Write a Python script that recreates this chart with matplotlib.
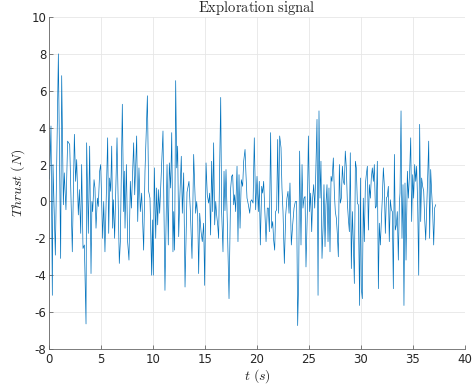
import numpy as np
import matplotlib
matplotlib.use("Agg")
import matplotlib.pyplot as plt

# === values (vertices of the trace) ===
t = [0.0, 0.06, 0.19, 0.32, 0.385, 0.61, 0.90, 1.12, 1.22, 1.38, 1.47, 1.63, 1.79, 1.99,
     2.24, 2.44, 2.56, 2.66, 2.82, 2.92, 3.05, 3.14, 3.27, 3.40, 3.56, 3.62, 3.78, 3.91,
     4.04, 4.13, 4.20, 4.33, 4.42, 4.52, 4.65, 4.74, 4.87,
     4.97, 5.16, 5.26, 5.38, 5.64, 5.74, 5.83, 5.93, 6.03, 6.12, 6.19, 6.31, 6.54, 6.76,
     6.86, 7.05, 7.18, 7.24, 7.31, 7.44, 7.56, 7.69, 7.82, 7.92, 8.14, 8.24, 8.43, 8.53,
     8.65, 8.78, 8.91, 9.10, 9.23, 9.46, 9.58, 9.71,
     9.87, 9.94, 10.03, 10.13, 10.26, 10.35, 10.45, 10.54, 10.64, 10.74, 10.96, 11.15,
     11.35, 11.47, 11.57, 11.70, 11.80, 11.92, 11.99, 12.08, 12.18, 12.28, 12.37, 12.47,
     12.56, 12.72, 12.82, 12.95, 13.08, 13.27, 13.46, 13.59, 13.75, 13.91, 14.10, 14.20,
     14.30, 14.39,
     14.49, 14.62, 14.74, 14.87, 14.97, 15.10, 15.22, 15.35, 15.45, 15.54, 15.64, 15.74,
     15.83, 15.93, 16.03, 16.12, 16.22, 16.31, 16.51, 16.60, 16.73, 16.83, 16.92, 17.02,
     17.15, 17.31, 17.47, 17.56, 17.66, 17.76, 17.85, 17.95, 18.08, 18.17, 18.27, 18.37,
     18.49, 18.62, 18.72, 18.85, 18.94, 19.04, 19.17,
     19.30, 19.39, 19.49, 19.62, 19.74, 19.87, 20.00, 20.13, 20.22, 20.32, 20.45, 20.54,
     20.64, 20.77, 20.87, 20.99, 21.09, 21.19, 21.31, 21.41, 21.51, 21.60, 21.70, 21.79,
     21.89, 21.99, 22.08, 22.18, 22.31, 22.40, 22.50, 22.63, 22.76, 22.88, 22.98, 23.08,
     23.17, 23.30, 23.43, 23.56, 23.69, 23.81, 23.91, 24.01,
     24.10, 24.23, 24.33, 24.42, 24.52, 24.62, 24.71, 24.84, 24.94, 25.06, 25.16, 25.26,
     25.35, 25.45, 25.55, 25.64, 25.77, 25.87, 25.96, 26.06, 26.15, 26.25, 26.35, 26.44,
     26.54, 26.63, 26.73, 26.83, 26.92, 27.02, 27.12, 27.21, 27.34, 27.44, 27.53, 27.63,
     27.72, 27.82, 27.92, 28.01, 28.11, 28.21, 28.30, 28.40, 28.49, 28.59, 28.69, 28.78,
     28.88,
     28.97, 29.07, 29.17, 29.26, 29.36, 29.46, 29.55, 29.65, 29.74, 29.87, 29.94, 30.03,
     30.13, 30.22, 30.32, 30.42, 30.51, 30.61, 30.71, 30.80, 30.90, 30.99, 31.09, 31.19,
     31.28, 31.38, 31.47, 31.57, 31.67, 31.76, 31.86, 31.96, 32.05, 32.15, 32.24, 32.34,
     32.44, 32.53, 32.63, 32.72, 32.82, 32.92, 33.01, 33.11, 33.21, 33.30, 33.40, 33.49,
     33.59, 33.69,
     33.75, 33.85, 33.94, 34.04, 34.13, 34.23, 34.33, 34.46, 34.55, 34.68, 34.78, 34.87,
     34.97, 35.06, 35.16, 35.26, 35.35, 35.45, 35.55, 35.64, 35.74, 35.83, 35.93, 36.03,
     36.12, 36.22, 36.31, 36.41, 36.51, 36.60, 36.70, 36.79, 36.89, 36.99, 37.08, 37.18]

thrust = [1.2, 1.27, 4.09, -5.09, 2.0, -2.91, 8.0, -3.09, 6.82, -0.18, 1.55, -0.45, 3.27, 3.09,
          -2.73, 3.64, 1.09, 2.27, -0.73, 0.64, -1.73, 2.0, -2.55, -2.36, -6.64, 3.18, -1.73, 3.0,
          -3.91, 0.0, -0.55, 1.18, 0.73, -1.45, 0.18, -0.27, 1.64,
          2.0, -2.0, 0.0, -2.73, 3.45, -1.73, 1.27, 0.55, 3.0, -1.45, 0.09, -2.0, 3.45, -3.36,
          -2.18, 5.27, -0.55, 1.64, -1.45, 2.0, -2.18, -3.18, 1.09, -0.36, 3.18, 0.36, 3.55, -1.09,
          1.82, -0.55, 0.45, -2.64, 1.64, 5.73, 0.55, 0.18,
          -4.0, -1.0, -4.0, 1.82, -2.0, 0.73, -1.27, 0.64, -0.64, 0.73, 3.82, -4.82,
          2.0, -2.36, 2.09, 0.73, 3.73, -2.73, -0.55, -2.64, 6.55, 1.82, 3.0, -1.91,
          -0.09, 2.45, -0.64, 1.55, -4.64, 0.5, 1.09, -0.5, -3.09, 2.55, -0.64, 0.0,
          -0.8, -3.91,
          -0.64, -1.64, -2.18, -1.18, -4.55, 2.09, 0.36, -0.09, 0.45, -1.82, 2.18, -0.55,
          3.18, -1.27, 0.0, -0.73, -1.27, -2.0, 5.64, -0.55, -2.73, 1.64, -0.5, 1.73,
          -1.27, -5.27, 0.73, 1.36, 1.45, -0.18, 0.36, -0.55, 1.91, -2.18, 1.45, -1.45,
          1.18, 0.82, 2.18, 2.82, 1.45, 0.18, -0.18,
          -0.64, 0.0, 0.09, -0.09, 3.45, -0.45, 1.36, -0.55, 1.09, -2.36, 0.82, 0.45,
          1.09, -0.73, -2.18, -0.36, -0.36, -1.64, 3.73, -1.45, -1.09, -2.09, -2.64, -0.55,
          -0.45, 3.36, -0.64, 3.55, 2.91, 0.73, -0.55, -3.36, -0.73, 0.18, 0.55, -0.64,
          1.0, -2.36, -1.27, -0.36, 0.0, 0.0, -6.73, -4.18,
          2.73, -2.36, 2.0, -0.36, 0.18, 0.27, -3.55, -0.55, 3.55, -0.55, 0.45, -1.64,
          0.18, 0.91, -0.36, 1.27, 4.45, -5.09, 4.91, 0.18, 2.18, -3.09, -1.45, 0.91,
          -2.45, -0.18, 0.91, -2.18, 0.73, -2.73, 1.36, 1.09, 2.36, 0.45, -0.55, -0.91,
          -1.73, -3.0, 2.0, -0.09, 0.18, 1.91, 1.09, 0.91, 2.73, 1.82, -0.09, -0.91,
          -1.64,
          2.64, -3.64, -0.55, -2.18, -4.45, 2.18, 1.82, -0.09, -0.18, -5.64, 1.27, -4.73,
          -5.27, 0.18, -2.18, 0.91, 1.45, 1.91, -1.55, 0.91, 0.18, 1.27, 1.82, 1.09,
          2.0, -0.36, -0.27, 2.18, -4.73, -1.18, -2.36, -1.0, 0.18, 1.82, 0.91, -1.73,
          0.18, 0.27, 0.82, -2.18, 0.09, -0.45, -0.55, -4.73, 2.55, -1.55, -1.27, -0.55,
          -3.18, -0.09,
          0.45, 4.91, -2.0, 0.91, -5.64, 1.0, -3.18, 1.64, 0.18, 1.64, 3.45, -1.09,
          1.45, 0.18, 2.0, 1.09, 1.91, -0.18, -4.0, 4.18, -1.09, 1.27, 0.82, 0.55,
          -0.91, -2.09, -0.55, 1.27, 3.27, -2.0, 1.73, 0.55, -0.55, -2.36, -0.36, -0.18]

x_ticks = [0, 5, 10, 15, 20, 25, 30, 35, 40]
y_ticks = [-8, -6, -4, -2, 0, 2, 4, 6, 8, 10]

plt.rcParams['mathtext.fontset'] = 'cm'
plt.rcParams['axes.unicode_minus'] = False

fig = plt.figure(figsize=(4.75, 3.92), dpi=100)
ax = fig.add_axes([49 / 475, 43 / 392, 416 / 475, 332 / 392])

ax.plot(t, thrust, color='#0072BD', linewidth=0.5)

ax.set_xlim(0, 40)
ax.set_ylim(-8, 10)
ax.set_xticks(x_ticks)
ax.set_yticks(y_ticks)
ax.grid(True, color='#e6e6e6', linewidth=0.6)
ax.set_axisbelow(True)

for side in ['top', 'right']:
    ax.spines[side].set_visible(False)
for side in ['left', 'bottom']:
    ax.spines[side].set_color('#666666')
    ax.spines[side].set_linewidth(0.6)
ax.tick_params(direction='in', length=3, width=0.6, color='#666666',
               labelsize=8.5, labelcolor='#262626')
ax.tick_params(axis='x', pad=3)
ax.tick_params(axis='y', pad=2)

ax.set_title(r'$\mathrm{Exploration\ signal}$', fontsize=10.5, color='#262626', pad=3)
ax.set_xlabel(r'$t\ (s)$', fontsize=10, color='#262626', labelpad=1)
ax.set_ylabel(r'$Thrust\ (N)$', fontsize=10, color='#262626', labelpad=3)

fig.savefig('out.png', dpi=100, facecolor='white')
